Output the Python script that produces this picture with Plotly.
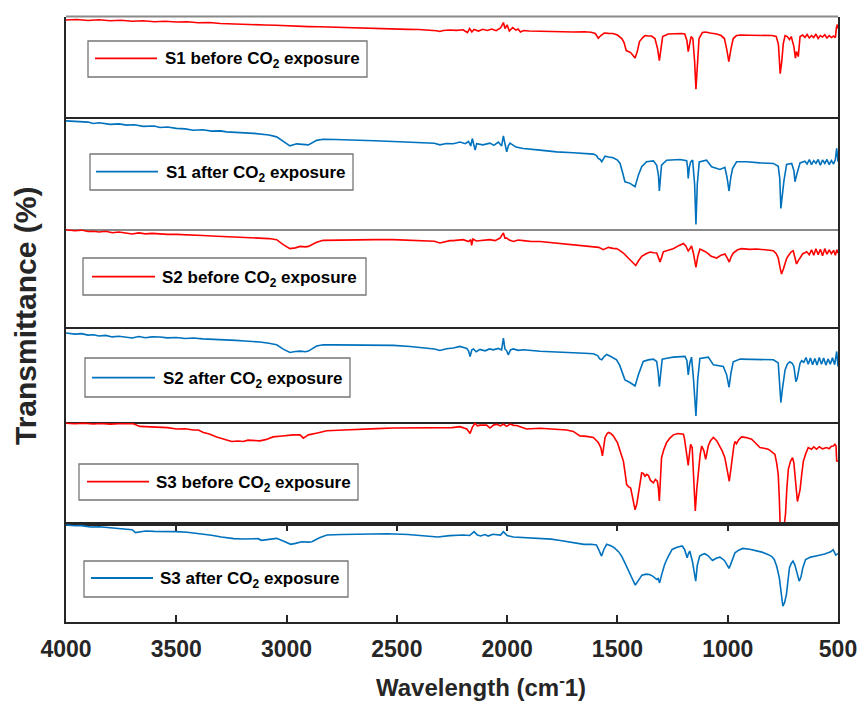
import plotly.graph_objects as go

# ---------------- data (wavenumber cm-1, transmittance in panel units 0-100) ----------------
s1_before_wn = [4000,3950,3900,3850,3800,3750,3700,3650,3600,3550,3500,3450,3400,3350,3300,3250,3200,3150,3100,3050,
                3000,2950,2900,2850,2800,2750,2700,2650,2600,2550,2500,2450,2400,2350,2320,2305,2290,2260,2230,2200,
                2180,2170,2160,2150,2130,2110,2090,2070,2050,2030,2017,2010,2000,1990,1975,1960,1950,1940,1925,1900,
                1850,1800,1750,1700,1650,1620,1600,1587,1575,1560,1540,1520,1500,1480,1470,1460,1440,1420,1410,1400,
                1385,1375,1360,1345,1330,1318,1310,1303,1295,1270,1240,1210,1195,1185,1179,1172,1166,1158,1150,1144,
                1138,1130,1115,1100,1080,1050,1030,1015,1005,995,985,975,960,940,900,870,850,820,800,780,
                770,762,755,748,740,730,720,712,700,693,688,680,672,660,650,640,630,620,610,600,
                590,580,570,560,550,540,530,520,512,507,503,500]
s1_before_t = [96.5,97,96,96.8,95.8,96.3,95.2,95.8,94.8,95.3,94.5,94.8,93.8,94,93,92.8,92.2,92,91.5,91.2,
               90.6,90.4,89.9,89.7,89.3,89,88.6,88.4,88,87.8,87.5,87.2,87,86.6,85.8,85,86,86.5,86.2,86.8,
               84,88,84.5,87,85.5,87.2,86,87.5,85.8,88.5,94,88,91.5,85.5,89,86.5,87.5,84.5,86,85.5,
               85.2,84.8,85,84.6,84.8,84.3,83,78.4,81,83.5,83.2,83,81.5,78,74,66,64,58.5,65,75,
               79,81,80.5,80.5,78,68,56,70,80,82.5,83,83,82.5,76,65,73,80,78,55,27.5,
               55,78,84,84.5,83.5,82.5,81,78,68,55,68,78,81,81.5,81.3,81,81.5,80.8,81,80,
               72,43,55,73,81,80,77,80,70,58.5,65,60,80,81.5,79,82,78.5,81,79,82.5,
               78,81,79.5,81.8,78.5,81,79,80.5,79,89,92,88]

s1_after_wn = [4000,3950,3900,3876,3850,3800,3760,3725,3690,3650,3600,3574,3540,3500,3460,3423,3380,3340,3300,3272,
               3230,3190,3150,3121,3080,3045,3015,2985,2954,2930,2901,2864,2834,2780,2720,2667,2600,2516,2440,2365,
               2330,2305,2275,2244,2214,2190,2175,2165,2158,2145,2138,2110,2078,2060,2040,2025,2017,2010,2002,1995,
               1987,1960,1927,1851,1776,1700,1640,1609,1595,1587,1578,1571,1562,1556,1540,1519,1500,1488,1476,1466,
               1443,1430,1420,1405,1390,1368,1337,1322,1314,1310,1305,1300,1277,1216,1186,1182,1179,1174,1168,1159,
               1150,1144,1138,1129,1096,1073,1035,1013,1003,994,986,978,960,914,854,793,771,764,759,752,
               745,733,710,700,695,688,672,650,640,630,620,610,600,590,580,570,560,550,540,530,
               520,512,506,500]
s1_after_t = [96.3,95.5,95.2,94,94.6,93.2,93.6,92.5,92.8,91.4,91.8,90.4,90.8,89.6,89.2,88,88.4,87.2,87.4,86.5,
              86.3,85.6,85.2,84.5,83.8,82.1,77.7,74.1,75.9,75.2,75,79,80,79.8,79.2,79.2,78.6,78,77.6,76.9,
              76.4,75,76.2,76,77.5,76,78,74,80.6,70.3,76.1,75,76.5,74.5,77.5,74,83,76,68.8,74,
              76.5,73,71.8,70.3,68.8,68,67.2,66.8,65.5,62.9,62,60,63,65,64.2,63.5,61.5,58.5,50,42.2,
              40.8,39.5,37.8,48.1,55.5,60,60.8,56.9,48,34,46,56.9,61.4,62,61,55,45.2,55,59.8,61.4,
              40,4.4,40,59.8,61.4,55.5,53.2,55,46,34,46,54,60,60,59,58.5,56,45,18.6,32,
              43.3,57.6,58.5,52,42.2,48,59,60.5,58,62,57.5,61,58.5,62,57,61.5,58.5,62,57.5,61,
              58,62,71.8,60]

s2_before_wn = [4000,3960,3930,3900,3876,3850,3820,3790,3760,3725,3700,3670,3640,3610,3574,3540,3500,3460,3423,3380,
                3340,3300,3272,3230,3190,3150,3121,3080,3045,3015,2985,2960,2939,2915,2901,2864,2834,2780,2720,2667,
                2600,2516,2440,2365,2330,2305,2280,2259,2244,2199,2175,2165,2161,2155,2140,2123,2100,2078,2055,2032,
                2017,2010,2002,1990,1972,1950,1927,1890,1851,1780,1700,1650,1609,1585,1564,1550,1541,1520,1504,1490,
                1473,1451,1430,1417,1405,1390,1370,1352,1335,1322,1314,1307,1300,1292,1270,1247,1220,1201,1190,1179,
                1172,1164,1155,1144,1136,1126,1110,1096,1075,1050,1030,1013,1003,993,985,975,955,937,900,869,
                830,793,780,771,762,756,748,740,733,725,712,703,695,688,680,672,660,650,642,630,
                620,610,600,590,580,570,560,550,540,530,520,512,505,500]
s2_before_t = [99.7,98.5,99.2,97.8,98,97.2,98,96.5,97.2,96.3,95.2,96.3,95.3,95.8,95.2,94.8,94.8,94.2,94,93.6,
               93.2,92.8,92.5,92,91.6,91.4,91.2,90.5,89.4,84.3,80.2,81,82.5,82,82.5,86.8,88.7,89,89.2,89.4,
               89.4,89.4,88.8,88.4,87.8,86,87.5,88.4,88.4,89.4,87.5,89.5,83.5,90,88,88.4,89.5,89.4,88.4,91,
               96.3,91,91,89,87.5,89,88.4,87.5,87.5,86,84.3,83.5,82.5,81.5,79.1,80.5,81.5,80.5,80.2,78.5,
               75.7,70.6,66,63,67.5,72.3,75,76.8,76,75.8,71,66.5,71,77,78.5,80.2,83.5,85.4,83,77.8,
               80,82.9,75,61,72,79.8,78,76.4,72.5,70.6,73.5,74.7,71,66.5,71.5,75.7,79,80.2,79.5,79.8,
               79,78.1,75,70.6,60,54.2,59,64.5,70,73,77,78.1,72,64.5,68,71,75,76,77.1,74,
               79,73.5,80,74,79.5,73,80.2,74.5,79,75,78.5,73.5,79,75.7]

s2_after_wn = [4000,3960,3930,3900,3876,3850,3820,3790,3760,3725,3700,3670,3640,3610,3574,3540,3500,3460,3423,3380,
               3340,3300,3272,3230,3190,3150,3121,3080,3045,3015,2985,2960,2939,2915,2901,2864,2834,2780,2720,2667,
               2600,2516,2440,2365,2330,2305,2275,2244,2214,2190,2183,2175,2168,2160,2153,2140,2123,2100,2080,2063,
               2040,2025,2017,2010,2002,1995,1985,1972,1950,1927,1851,1776,1700,1650,1609,1590,1580,1571,1560,1549,
               1530,1504,1490,1476,1466,1445,1420,1405,1395,1383,1360,1337,1322,1315,1310,1304,1297,1270,1247,1194,
               1185,1179,1172,1164,1155,1144,1136,1126,1100,1088,1065,1035,1020,1005,994,985,975,944,900,869,
               830,793,771,765,759,752,740,730,718,708,700,695,691,685,680,672,665,655,645,635,
               625,615,605,595,585,575,565,555,545,535,525,515,506,500]
s2_after_t = [93.7,92.5,93,91.5,91.9,90.5,91.2,89.6,90.3,89.5,88.5,90,88.8,89.6,89.5,88.6,89,88,88.4,87.5,
              87.3,86.7,86.6,86,85.3,84.9,84.2,83,81.4,76.8,73.3,74.3,74.7,74,74.7,80,81.4,81.2,81,81,
              80.7,80.7,79.5,78.2,77,75.4,77.2,78,79.6,78,77.5,75,69,76,77,74,76.5,75,77,76,
              77.5,76,88.4,77,75,70.8,76,77,75.5,76.1,74.5,73.8,73.3,72.5,71.9,70,66.5,65.6,69,71.2,
              69,65.6,60,52,44.5,42,38.2,49.8,56,63.8,65.5,66.3,63.8,52,37.5,52,66.3,67.5,68.4,69.1,
              65,49.8,62,68.4,45,6.6,45,67,67.5,68.4,60.3,59.6,58.6,50,36.8,52,63.5,66.3,66,66.3,
              66,65.6,62.3,45,20.7,35,55,61,63.5,62,58.6,50,42.7,46,51.4,62,64.6,63,68,61,
              67.5,60.5,67,60,68,61,67.5,60,66.5,61,67.8,60.5,74.3,58.6]

s3_before_wn = [4000,3960,3920,3876,3840,3800,3760,3725,3695,3665,3620,3574,3540,3498,3460,3423,3400,3377,3350,3317,
                3280,3249,3220,3196,3175,3151,3121,3095,3061,3020,2970,2939,2924,2910,2901,2860,2818,2740,2667,2590,
                2516,2440,2365,2300,2250,2214,2183,2168,2158,2146,2135,2123,2093,2078,2060,2048,2030,2017,2002,1987,
                1970,1957,1935,1912,1851,1780,1730,1700,1670,1640,1609,1587,1575,1568,1562,1556,1548,1541,1530,1519,
                1500,1488,1473,1465,1458,1450,1440,1430,1420,1412,1405,1398,1390,1383,1375,1368,1360,1350,1337,1328,
                1319,1314,1310,1306,1300,1290,1277,1262,1247,1225,1201,1196,1191,1185,1179,1174,1168,1161,1155,1147,
                1140,1133,1125,1118,1108,1100,1094,1088,1078,1065,1050,1035,1025,1013,1003,993,985,978,972,967,
                960,950,937,915,892,875,854,835,816,800,786,778,771,766,762,745,738,732,725,715,
                706,700,695,690,684,678,672,665,657,645,635,620,610,597,585,570,552,540,530,521,
                514,509,506,500]
s3_before_t = [99,98.6,99.2,98.3,98.8,98.2,98.6,98.3,98.6,96,95.6,95,94.8,93.4,93.6,92.4,92.4,90.1,88.5,85.7,
               83.5,81.2,81.6,81.2,82.5,82.5,81.8,83,85.7,86.5,87.7,87.7,84.5,86.5,87.7,89.6,91.7,92.5,93.4,93.8,
               94.4,94.4,95,95,94.8,95.7,93.4,89.1,95,99,96.5,97.2,97.2,94.4,97.5,98,96.5,98.3,96,98.3,
               97,96.8,95,93.4,94.2,93,92.4,91.1,86.7,86.2,85.1,80.2,75,67,75,85.1,88.5,90.1,89,86.7,
               80,71.9,62,50,38.9,37,35.6,25,14.2,20,29,40,50.5,50,47.1,49,48,43,40.6,44,
               42.2,35,23,40,65.3,73,80.2,84.5,87.7,89,88.4,84,76.8,66,57.7,68,78.5,75.2,45,13.2,
               35,52.1,68,76.8,72,63.7,70,77,82,85.1,82,76.8,72,65.3,55,42.2,55,68.6,77,81.2,
               79,83,85.7,85,83.4,80,75.2,74.5,73.6,71,68.6,60,48.8,25,-3,-3,10,35,54.1,62,
               65.3,60,48.8,35,22.4,28,34,48,62,70,75.2,73.5,76,73.6,76,74,75.2,74,76.5,76.8,
               78.5,77,62,62]

s3_after_wn = [4000,3960,3930,3890,3850,3799,3760,3730,3700,3685,3660,3639,3600,3550,3502,3450,3388,3340,3296,3260,
               3239,3200,3170,3148,3130,3114,3080,3045,3010,2981,2960,2931,2900,2885,2851,2817,2750,2650,2543,2450,
               2380,2314,2260,2200,2170,2150,2135,2120,2100,2086,2065,2051,2030,2017,2000,1972,1920,1857,1800,1766,
               1700,1652,1620,1595,1585,1572,1562,1549,1530,1515,1495,1481,1465,1451,1440,1430,1419,1405,1389,1370,
               1355,1340,1321,1315,1309,1300,1286,1270,1252,1230,1206,1195,1184,1178,1172,1160,1150,1145,1138,1127,
               1115,1104,1090,1069,1050,1035,1015,1003,994,985,975,967,950,932,900,875,845,818,800,789,
               778,766,758,750,742,734,727,720,712,704,695,685,676,668,660,647,635,624,600,578,
               560,545,533,522,510,500]
s3_after_t = [99.4,98.5,98.6,97.3,97.5,96.6,96,94.9,94.5,91.5,92.8,93.2,92.8,93,92.5,91.8,90.4,88.8,87,86,
              85.3,85,85.2,84.6,85.3,83.6,84.5,85.6,82.5,79.5,80.5,82.2,81.8,82.2,86.3,89.1,89.6,90,90.4,89.5,
              88.5,87,88.4,89.1,88.5,92.5,89,88,89.5,88,89.8,89.6,89,92.5,88.5,87,86.5,85.6,84.8,83.6,
              81.5,79.5,79.5,78.8,74,67.5,74,79.5,78,76.1,72,67.5,60,53.8,49,43,37.7,43,48,49,
              48.6,47,43.5,44.5,40,48,58.9,67,74.3,76.5,77.8,74,65.8,70,72.6,62,45,41.8,58,67.5,
              69,69.9,68,63,65.5,66.4,63,58,54.8,60,67,70.9,73.5,75.3,74.5,73.3,71.5,69.2,67,64,
              57,45.2,28,16.1,20,28.1,42,55.5,60,62.3,58,48,41.8,46,55,64,65,66.4,67.5,68.5,
              69.5,71,71.9,74,68.5,70]

series_names = ["S1 before CO<sub>2</sub> exposure", "S1 after CO<sub>2</sub> exposure",
                "S2 before CO<sub>2</sub> exposure", "S2 after CO<sub>2</sub> exposure",
                "S3 before CO<sub>2</sub> exposure", "S3 after CO<sub>2</sub> exposure"]
x_tick_vals = [4000, 3500, 3000, 2500, 2000, 1500, 1000, 500]
x_tick_text = ["4000", "3500", "3000", "2500", "2000", "1500", "1000", "500"]

# ---------------- styling / layout ----------------
RED = "#FF0000"
BLUE = "#0072BD"
DARK = "#262626"
GREY = "#8a8a8a"
FONT = "Liberation Sans, Arial, sans-serif"
W, H = 858, 704
L, R, T, B = 66, 838, 16, 622


def pxx(x):
    return (x - L) / (R - L)


def pxy(y):
    return (B - y) / (B - T)


spectra = [(s1_before_wn, s1_before_t, RED), (s1_after_wn, s1_after_t, BLUE),
           (s2_before_wn, s2_before_t, RED), (s2_after_wn, s2_after_t, BLUE),
           (s3_before_wn, s3_before_t, RED), (s3_after_wn, s3_after_t, BLUE)]
bounds = [16.5, 116.7, 229.3, 327, 422.3, 524.3, 622]
bottom_line_colors = [DARK, GREY, DARK, DARK, DARK, DARK]

# legend box geometry (pixels): box left, top, right, bottom, line x0, x1, line y, text x
legend_geo = [
    (88, 41, 367, 77, 95, 157, 58.3, 163),
    (90, 154, 353, 190, 96, 158, 171.7, 164),
    (83, 258, 366, 295, 92, 155, 276.7, 160),
    (85, 358, 350, 397, 92, 155, 377.7, 161),
    (79, 464, 358, 500, 87, 149, 481.7, 154),
    (84, 561, 348, 597, 91, 153, 578.0, 158),
]

fig = go.Figure()
layout = dict(width=W, height=H, margin=dict(l=L, r=W - R, t=T, b=H - B, autoexpand=False),
              paper_bgcolor="white", plot_bgcolor="white", showlegend=False,
              font=dict(family=FONT, color="black"))
shapes = []
annotations = []

for i, (wn, tv, col) in enumerate(spectra):
    n = i + 1
    xa = "x" if n == 1 else f"x{n}"
    ya = "y" if n == 1 else f"y{n}"
    fig.add_trace(go.Scatter(x=wn, y=tv, mode="lines", line=dict(color=col, width=1.6),
                             name=series_names[i], xaxis=xa, yaxis=ya, hoverinfo="skip"))
    dom = [max(0, pxy(bounds[i + 1])), min(1, pxy(bounds[i]))]
    last = (n == 6)
    layout[f"xaxis{'' if n == 1 else n}"] = dict(
        domain=[0, 1], anchor=ya, range=[4000, 500], showgrid=False, zeroline=False,
        showline=True, linecolor=bottom_line_colors[i], linewidth=2,
        mirror="ticks" if last else False, automargin=False,
        ticks="inside" if last else "", ticklen=7, tickwidth=2, tickcolor=DARK,
        tickvals=x_tick_vals, ticktext=x_tick_text, showticklabels=last,
        tickfont=dict(family=FONT, size=23, color=DARK, weight="bold"),
        ticklabelstandoff=5)
    layout[f"yaxis{'' if n == 1 else n}"] = dict(
        domain=dom, anchor=xa, range=[0, 100], showgrid=False, zeroline=False,
        showline=True, mirror=True, linecolor=DARK, linewidth=2, automargin=False,
        ticks="", showticklabels=False)

    bl, bt, br, bb, lx0, lx1, ly, tx = legend_geo[i]
    shapes.append(dict(type="rect", xref="paper", yref="paper", x0=pxx(bl), x1=pxx(br),
                       y0=pxy(bb), y1=pxy(bt), line=dict(color="#767676", width=1.3),
                       fillcolor="white", layer="above"))
    shapes.append(dict(type="line", xref="paper", yref="paper", x0=pxx(lx0), x1=pxx(lx1),
                       y0=pxy(ly), y1=pxy(ly), line=dict(color=col, width=1.8), layer="above"))
    annotations.append(dict(text=series_names[i], xref="paper", yref="paper", x=pxx(tx),
                            y=pxy(ly + 2), xanchor="left", yanchor="middle", showarrow=False,
                            font=dict(family=FONT, size=17, color="black", weight="bold")))

# grey top border of first panel
shapes.append(dict(type="line", xref="paper", yref="paper", x0=0, x1=1, y0=pxy(bounds[0]), y1=pxy(bounds[0]),
                   line=dict(color=GREY, width=2), layer="above"))

annotations.append(dict(text="Wavelength (cm<sup>-</sup>1)", xref="paper", yref="paper", x=pxx(481), y=pxy(703),
                        xanchor="center", yanchor="bottom", showarrow=False,
                        font=dict(family=FONT, size=24, color=DARK, weight="bold")))
annotations.append(dict(text="Transmittance (%)", xref="paper", yref="paper", x=pxx(25), y=pxy(316),
                        xanchor="center", yanchor="middle", showarrow=False, textangle=-90,
                        font=dict(family=FONT, size=30, color=DARK, weight="bold")))

layout["shapes"] = shapes
layout["annotations"] = annotations
fig.update_layout(**layout)
fig.write_html("out.html")
